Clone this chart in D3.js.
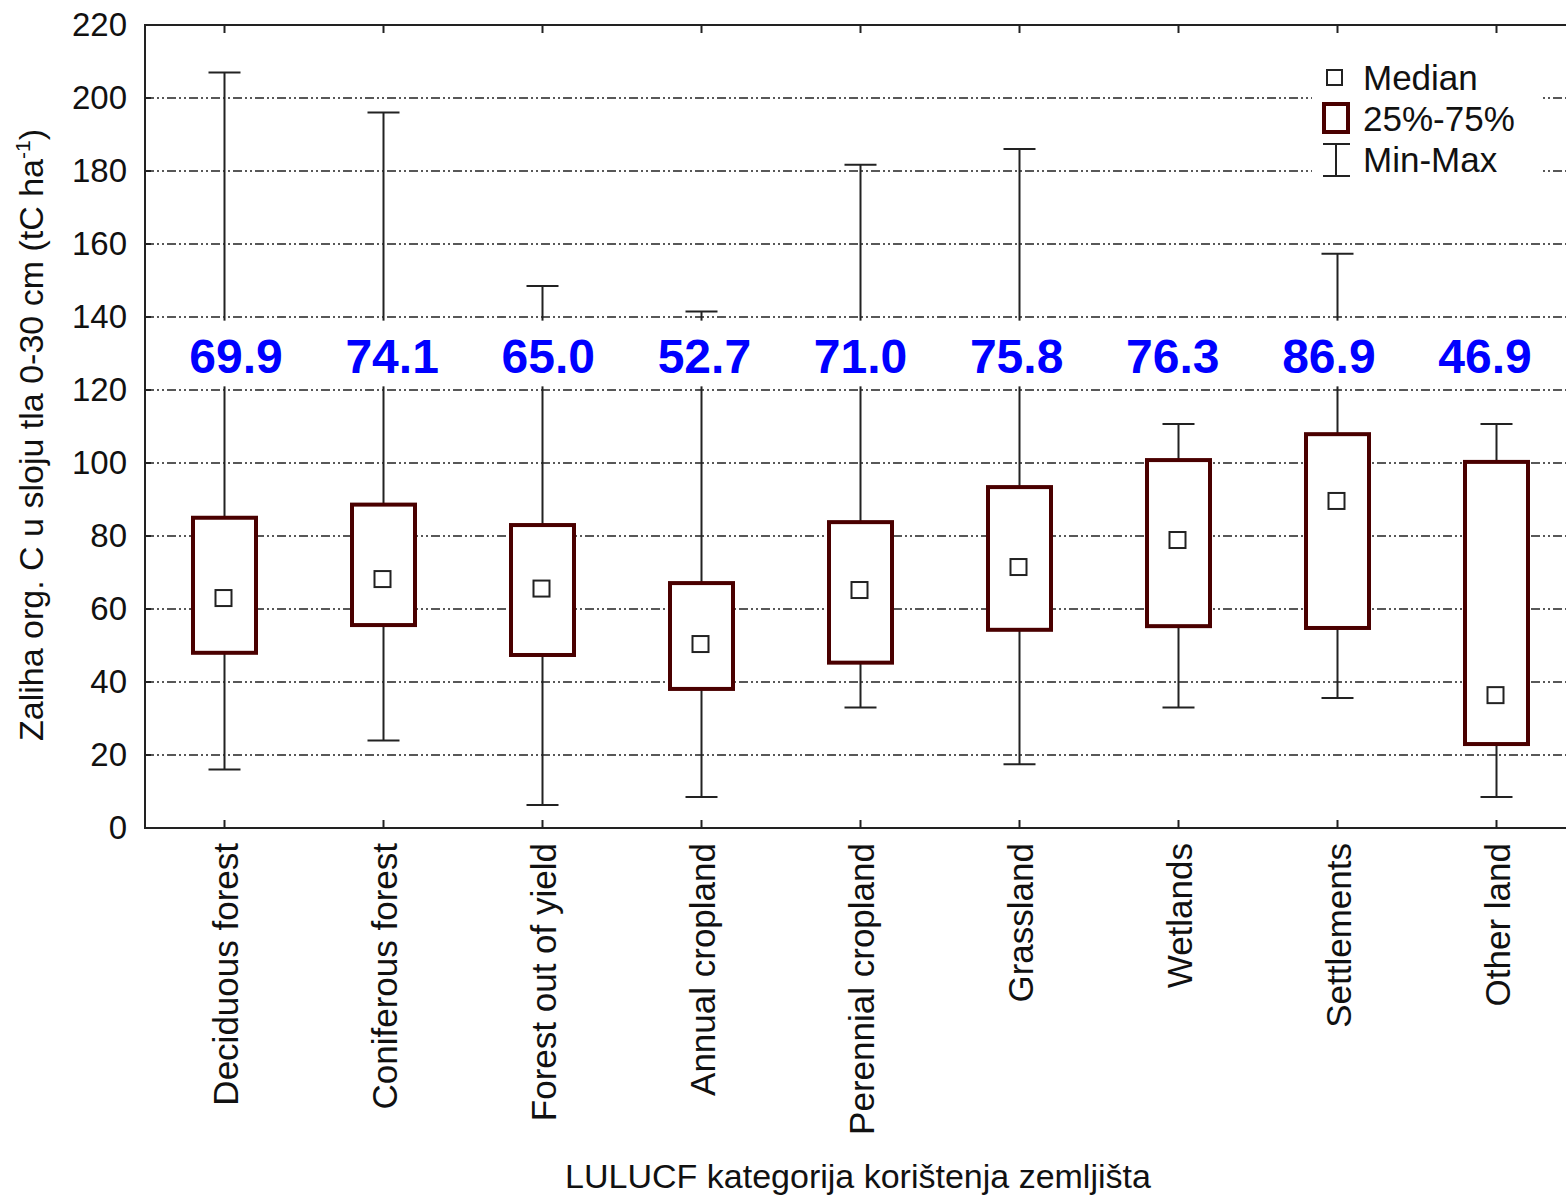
<!DOCTYPE html>
<html>
<head>
<meta charset="utf-8">
<script src="https://cdn.jsdelivr.net/npm/d3@7"></script>
<style>
  body { margin: 0; background: #fff; }
  svg { font-family: "Liberation Sans", Arial, sans-serif; }
</style>
</head>
<body>
<svg id="chart" width="1566" height="1196"></svg>
<script>
const categories = ["Deciduous forest", "Coniferous forest", "Forest out of yield", "Annual cropland",
    "Perennial cropland", "Grassland", "Wetlands", "Settlements", "Other land"];
const minValues = [16, 24, 6.3, 8.5, 33, 17.5, 33, 35.6, 8.5];
const q1Values = [48, 55.6, 47.4, 38.1, 45.3, 54.3, 55.3, 54.8, 23];
const medianValues = [63, 68.2, 65.6, 50.4, 65.2, 71.5, 78.9, 89.6, 36.4];
const q3Values = [85, 88.6, 83, 67.1, 83.8, 93.4, 100.8, 107.9, 100.3];
const maxValues = [207, 196, 148.5, 141.5, 181.7, 186, 110.7, 157.3, 110.7];
const meanLabels = ["69.9", "74.1", "65.0", "52.7", "71.0", "75.8", "76.3", "86.9", "46.9"];
const yTicks = [0, 20, 40, 60, 80, 100, 120, 140, 160, 180, 200, 220];

const data = categories.map((c, i) => ({
    cat: c, min: minValues[i], q1: q1Values[i], med: medianValues[i],
    q3: q3Values[i], max: maxValues[i], mean: meanLabels[i]
}));

const svg = d3.select("#chart");
const margin = { left: 145, top: 25, right: 1576, bottom: 828 };

const x = d3.scaleBand().domain(categories).range([margin.left, margin.right]);
const y = d3.scaleLinear().domain([0, 220]).range([margin.bottom, margin.top]);
// mean labels sit on their own, slightly tighter spacing
const xLabel = d3.scalePoint().domain(categories).range([236, 1485]);
const boxColor = "#4a0000";

// gridlines
svg.append("g").selectAll("line")
    .data(yTicks.filter(d => d > 0 && d < 220))
    .enter().append("line")
    .attr("x1", margin.left).attr("x2", margin.right)
    .attr("y1", d => y(d)).attr("y2", d => y(d))
    .attr("stroke", "#222").attr("stroke-width", 1.3)
    .attr("stroke-dasharray", "9,3,2,3,2,3");

// frame
svg.append("rect")
    .attr("x", margin.left).attr("y", margin.top)
    .attr("width", margin.right - margin.left).attr("height", margin.bottom - margin.top)
    .attr("fill", "none").attr("stroke", "#222").attr("stroke-width", 2);

// y axis, ticks inward
const yAxis = svg.append("g")
    .attr("transform", `translate(${margin.left},0)`)
    .call(d3.axisLeft(y).tickValues(yTicks).tickSize(0).tickPadding(18));
yAxis.select(".domain").remove();
yAxis.selectAll("text").attr("font-size", 33).attr("fill", "#111")
    .attr("font-family", "Liberation Sans, Arial, sans-serif");
svg.append("g").selectAll("line").data(yTicks).enter().append("line")
    .attr("x1", margin.left).attr("x2", margin.left + 6)
    .attr("y1", d => y(d)).attr("y2", d => y(d))
    .attr("stroke", "#222").attr("stroke-width", 2);

// x ticks top and bottom, inward
const xc = d => x(d) + x.bandwidth() / 2;
svg.append("g").selectAll("line").data(categories).enter().append("line")
    .attr("x1", xc).attr("x2", xc)
    .attr("y1", margin.bottom).attr("y2", margin.bottom - 8)
    .attr("stroke", "#222").attr("stroke-width", 2);
svg.append("g").selectAll("line").data(categories).enter().append("line")
    .attr("x1", xc).attr("x2", xc)
    .attr("y1", margin.top).attr("y2", margin.top + 8)
    .attr("stroke", "#222").attr("stroke-width", 2);

// category labels, rotated
svg.append("g").selectAll("text").data(categories).enter().append("text")
    .attr("transform", d => `translate(${xc(d) + 13},${margin.bottom + 15}) rotate(-90)`)
    .attr("text-anchor", "end")
    .attr("font-size", 35).attr("fill", "#111")
    .text(d => d);

// whiskers
const boxW = 63, capW = 32;
const g = svg.append("g");
g.selectAll("line.whisker").data(data).enter().append("line")
    .attr("class", "whisker")
    .attr("x1", d => xc(d.cat)).attr("x2", d => xc(d.cat))
    .attr("y1", d => y(d.min)).attr("y2", d => y(d.max))
    .attr("stroke", "#222").attr("stroke-width", 2);
["min", "max"].forEach(k => {
    g.selectAll("line.cap-" + k).data(data).enter().append("line")
        .attr("class", "cap-" + k)
        .attr("x1", d => xc(d.cat) - capW / 2).attr("x2", d => xc(d.cat) + capW / 2)
        .attr("y1", d => y(d[k])).attr("y2", d => y(d[k]))
        .attr("stroke", "#222").attr("stroke-width", 2);
});

// boxes
g.selectAll("rect.box").data(data).enter().append("rect")
    .attr("class", "box")
    .attr("x", d => xc(d.cat) - boxW / 2)
    .attr("y", d => y(d.q3))
    .attr("width", boxW)
    .attr("height", d => y(d.q1) - y(d.q3))
    .attr("fill", "#fff").attr("stroke", boxColor).attr("stroke-width", 4);

// median markers
const mk = 16;
g.selectAll("rect.med").data(data).enter().append("rect")
    .attr("class", "med")
    .attr("x", d => xc(d.cat) - mk / 2 - 1)
    .attr("y", d => y(d.med) - mk / 2)
    .attr("width", mk).attr("height", mk)
    .attr("fill", "#fff").attr("stroke", "#222").attr("stroke-width", 2);

// mean labels with white backing
const lab = svg.append("g");
lab.selectAll("rect").data(data).enter().append("rect")
    .attr("x", d => x(d.cat) + 4).attr("y", y(139))
    .attr("width", x.bandwidth() - 8).attr("height", y(121) - y(139))
    .attr("fill", "#fff");
lab.selectAll("text").data(data).enter().append("text")
    .attr("x", d => xLabel(d.cat)).attr("y", 373)
    .attr("text-anchor", "middle")
    .attr("font-size", 48).attr("font-weight", "bold").attr("fill", "#0000ff")
    .text(d => d.mean);

// legend
const lg = svg.append("g");
lg.append("rect").attr("x", 1312).attr("y", 56).attr("width", 228).attr("height", 128).attr("fill", "#fff");
lg.append("rect").attr("x", 1327).attr("y", 70).attr("width", 15).attr("height", 15)
    .attr("fill", "#fff").attr("stroke", "#222").attr("stroke-width", 2);
lg.append("rect").attr("x", 1324).attr("y", 104).attr("width", 24).attr("height", 28)
    .attr("fill", "#fff").attr("stroke", boxColor).attr("stroke-width", 4);
lg.append("line").attr("x1", 1336).attr("x2", 1336).attr("y1", 144).attr("y2", 176)
    .attr("stroke", "#222").attr("stroke-width", 2);
lg.append("line").attr("x1", 1323).attr("x2", 1350).attr("y1", 144).attr("y2", 144)
    .attr("stroke", "#222").attr("stroke-width", 2);
lg.append("line").attr("x1", 1323).attr("x2", 1350).attr("y1", 176).attr("y2", 176)
    .attr("stroke", "#222").attr("stroke-width", 2);
const legendLabels = ["Median", "25%-75%", "Min-Max"];
lg.selectAll("text").data(legendLabels).enter().append("text")
    .attr("x", 1363).attr("y", (d, i) => 90 + i * 41)
    .attr("font-size", 35).attr("fill", "#111")
    .text(d => d);

// axis titles
svg.append("text")
    .attr("x", 858).attr("y", 1188)
    .attr("text-anchor", "middle").attr("font-size", 34).attr("fill", "#111")
    .text("LULUCF kategorija korištenja zemljišta");

const yt = svg.append("text")
    .attr("transform", "translate(43,435) rotate(-90)")
    .attr("text-anchor", "middle").attr("font-size", 34).attr("fill", "#111");
yt.append("tspan").text("Zaliha org. C u sloju tla 0-30 cm (tC ha");
yt.append("tspan").attr("dy", -13).attr("font-size", 21).text("-1");
yt.append("tspan").attr("dy", 13).text(")");
</script>
</body>
</html>
